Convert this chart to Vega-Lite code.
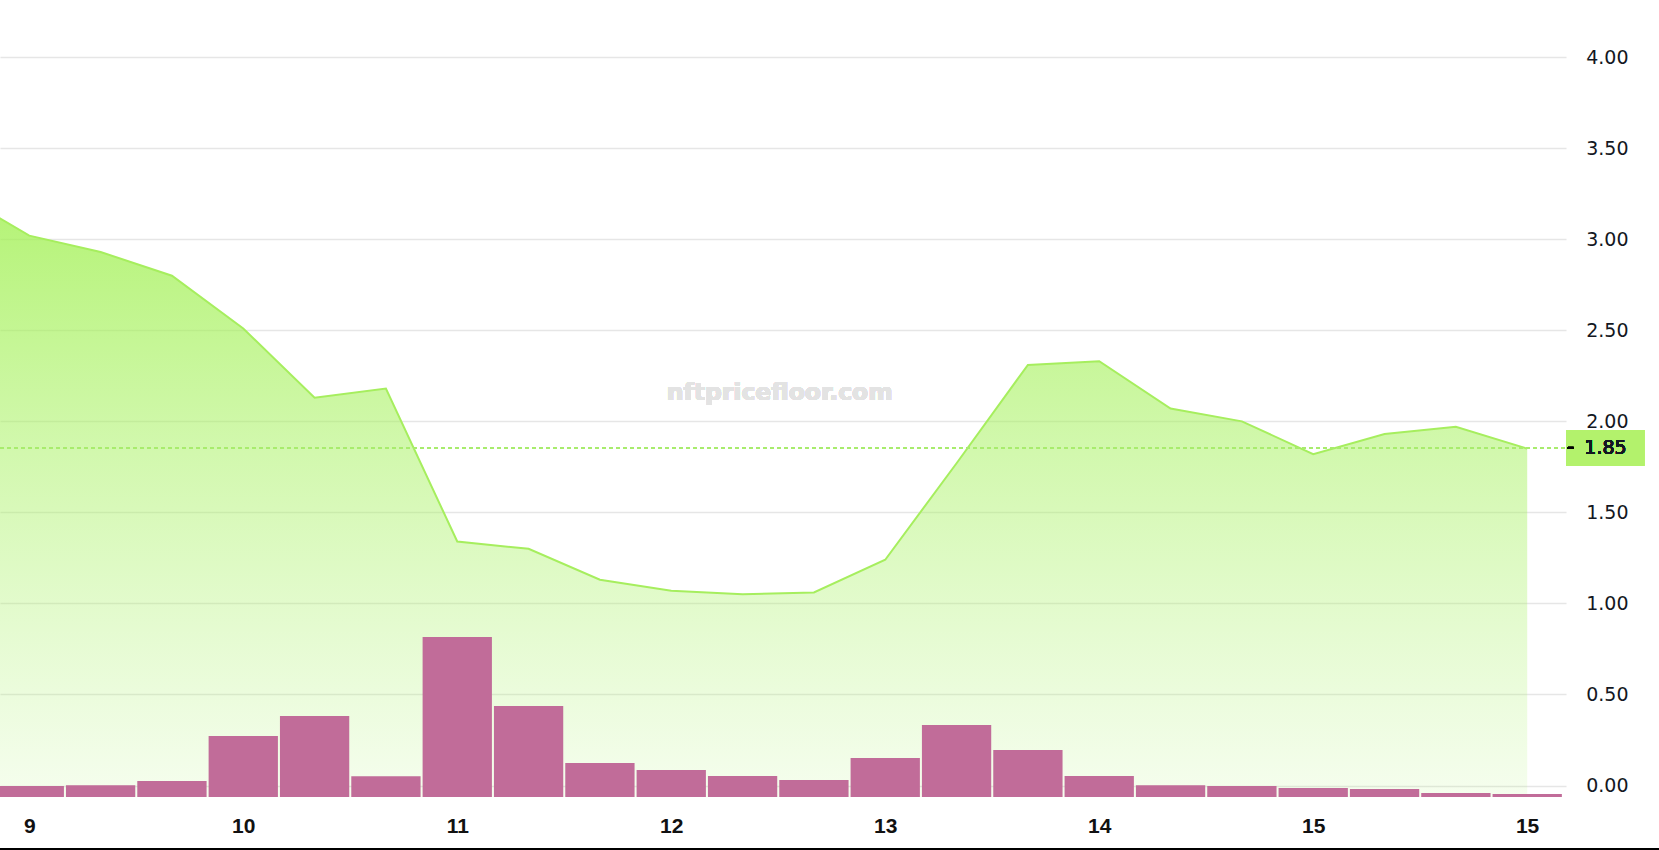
{
  "$schema": "https://vega.github.io/schema/vega-lite/v6.json",
  "width": 1566,
  "height": 797,
  "autosize": {"type": "none"},
  "padding": {"left": 0, "top": 0, "right": 93, "bottom": 53},
  "background": "white",
  "config": {
    "view": {"stroke": null},
    "scale": {"continuousPadding": 0},
    "axisX": {
      "domain": false, "ticks": false, "grid": false, "title": null, "format": "%-d",
      "labelFont": "Liberation Sans", "labelFontWeight": "bold", "labelFontSize": 21,
      "labelColor": "#111111", "labelBaseline": "middle", "labelPadding": 29,
      "labelFlush": false, "labelOverlap": false
    },
    "axisY": {
      "domain": false, "ticks": false, "grid": true, "title": null, "format": ".2f",
      "gridColor": "#e6e6e6", "gridWidth": 1.5,
      "labelFont": "DejaVu Sans", "labelFontSize": 19, "labelColor": "#131722",
      "labelAlign": "right", "labelBaseline": "middle", "labelPadding": 62,
      "labelFlush": false, "labelOverlap": false
    }
  },
  "data": {
    "values": [
      {"t": "2024-03-08T16:00:00", "price": 3.25},
      {"t": "2024-03-09T00:00:00", "price": 3.02, "vol": 1.1},
      {"t": "2024-03-09T08:00:00", "price": 2.93, "vol": 1.17},
      {"t": "2024-03-09T16:00:00", "price": 2.80, "vol": 1.6},
      {"t": "2024-03-10T00:00:00", "price": 2.51, "vol": 6.1},
      {"t": "2024-03-10T08:00:00", "price": 2.13, "vol": 8.1},
      {"t": "2024-03-10T16:00:00", "price": 2.18, "vol": 2.07},
      {"t": "2024-03-11T00:00:00", "price": 1.34, "vol": 16.0},
      {"t": "2024-03-11T08:00:00", "price": 1.30, "vol": 9.1},
      {"t": "2024-03-11T16:00:00", "price": 1.13, "vol": 3.4},
      {"t": "2024-03-12T00:00:00", "price": 1.07, "vol": 2.7},
      {"t": "2024-03-12T08:00:00", "price": 1.05, "vol": 2.1},
      {"t": "2024-03-12T16:00:00", "price": 1.06, "vol": 1.7},
      {"t": "2024-03-13T00:00:00", "price": 1.24, "vol": 3.9},
      {"t": "2024-03-13T08:00:00", "price": 1.77, "vol": 7.2},
      {"t": "2024-03-13T16:00:00", "price": 2.31, "vol": 4.7},
      {"t": "2024-03-14T00:00:00", "price": 2.33, "vol": 2.1},
      {"t": "2024-03-14T08:00:00", "price": 2.07, "vol": 1.17},
      {"t": "2024-03-14T16:00:00", "price": 2.00, "vol": 1.1},
      {"t": "2024-03-15T00:00:00", "price": 1.82, "vol": 0.9},
      {"t": "2024-03-15T08:00:00", "price": 1.93, "vol": 0.8},
      {"t": "2024-03-15T16:00:00", "price": 1.97, "vol": 0.4},
      {"t": "2024-03-16T00:00:00", "price": 1.85, "vol": 0.3}
    ]
  },
  "resolve": {"scale": {"y": "independent"}, "axis": {"y": "independent"}},
  "layer": [
    {
      "layer": [
        {
          "mark": {
            "type": "area",
            "clip": true,
            "color": {
              "gradient": "linear",
              "x1": 0, "y1": 0, "x2": 0, "y2": 1,
              "stops": [
                {"offset": 0, "color": "rgba(160,240,80,0.8)"},
                {"offset": 1, "color": "rgba(175,243,115,0.12)"}
              ]
            }
          },
          "encoding": {
            "x": {
              "field": "t", "type": "temporal",
              "scale": {"domain": [{"year": 2024, "month": 3, "date": 8, "hours": 20, "minutes": 43}, {"year": 2024, "month": 3, "date": 16, "hours": 4, "minutes": 21}], "nice": false, "padding": 0},
              "axis": {"orient": "bottom", "values": [{"year": 2024, "month": 3, "date": 9}, {"year": 2024, "month": 3, "date": 10}, {"year": 2024, "month": 3, "date": 11}, {"year": 2024, "month": 3, "date": 12}, {"year": 2024, "month": 3, "date": 13}, {"year": 2024, "month": 3, "date": 14}, {"year": 2024, "month": 3, "date": 15}, {"year": 2024, "month": 3, "date": 15, "hours": 23, "minutes": 59}]}
            },
            "y": {
              "field": "price", "type": "quantitative",
              "scale": {"domain": [-0.063, 4.314], "nice": false, "zero": false},
              "axis": {"orient": "right", "values": [0, 0.5, 1, 1.5, 2, 2.5, 3, 3.5, 4]}
            },
            "y2": {"datum": -0.063}
          }
        },
        {
          "mark": {"type": "line", "clip": true, "color": "#a6ee5e", "strokeWidth": 2},
          "encoding": {
            "x": {
              "field": "t", "type": "temporal",
              "scale": {"domain": [{"year": 2024, "month": 3, "date": 8, "hours": 20, "minutes": 43}, {"year": 2024, "month": 3, "date": 16, "hours": 4, "minutes": 21}], "nice": false, "padding": 0},
              "axis": {"orient": "bottom", "values": [{"year": 2024, "month": 3, "date": 9}, {"year": 2024, "month": 3, "date": 10}, {"year": 2024, "month": 3, "date": 11}, {"year": 2024, "month": 3, "date": 12}, {"year": 2024, "month": 3, "date": 13}, {"year": 2024, "month": 3, "date": 14}, {"year": 2024, "month": 3, "date": 15}, {"year": 2024, "month": 3, "date": 15, "hours": 23, "minutes": 59}]}
            },
            "y": {
              "field": "price", "type": "quantitative",
              "scale": {"domain": [-0.063, 4.314], "nice": false, "zero": false},
              "axis": {"orient": "right", "values": [0, 0.5, 1, 1.5, 2, 2.5, 3, 3.5, 4]}
            }
          }
        },
        {
          "mark": {"type": "rule", "color": "#a8ec6e", "strokeWidth": 1.5, "strokeDash": [4, 3]},
          "encoding": {
            "x": {"value": 0},
            "x2": {"value": 1566},
            "y": {
              "datum": 1.854, "type": "quantitative",
              "scale": {"domain": [-0.063, 4.314], "nice": false, "zero": false},
              "axis": {"orient": "right", "values": [0, 0.5, 1, 1.5, 2, 2.5, 3, 3.5, 4]}
            }
          }
        },
        {
          "mark": {"type": "text", "text": "nftpricefloor.com", "font": "DejaVu Sans", "fontWeight": "bold", "fontSize": 23.5, "color": "#e3e3e3", "align": "center", "baseline": "middle"},
          "encoding": {
            "x": {
              "datum": {"year": 2024, "month": 3, "date": 12, "hours": 12, "minutes": 10}, "type": "temporal",
              "scale": {"domain": [{"year": 2024, "month": 3, "date": 8, "hours": 20, "minutes": 43}, {"year": 2024, "month": 3, "date": 16, "hours": 4, "minutes": 21}], "nice": false, "padding": 0},
              "axis": {"orient": "bottom", "values": [{"year": 2024, "month": 3, "date": 9}, {"year": 2024, "month": 3, "date": 10}, {"year": 2024, "month": 3, "date": 11}, {"year": 2024, "month": 3, "date": 12}, {"year": 2024, "month": 3, "date": 13}, {"year": 2024, "month": 3, "date": 14}, {"year": 2024, "month": 3, "date": 15}, {"year": 2024, "month": 3, "date": 15, "hours": 23, "minutes": 59}]}
            },
            "y": {
              "datum": 2.155, "type": "quantitative",
              "scale": {"domain": [-0.063, 4.314], "nice": false, "zero": false},
              "axis": {"orient": "right", "values": [0, 0.5, 1, 1.5, 2, 2.5, 3, 3.5, 4]}
            }
          }
        },
        {
          "mark": {"type": "rect", "color": "#b3f26c", "clip": false},
          "encoding": {
            "x": {
              "datum": {"year": 2024, "month": 3, "date": 16, "hours": 4, "minutes": 21}, "type": "temporal",
              "scale": {"domain": [{"year": 2024, "month": 3, "date": 8, "hours": 20, "minutes": 43}, {"year": 2024, "month": 3, "date": 16, "hours": 4, "minutes": 21}], "nice": false, "padding": 0},
              "axis": {"orient": "bottom", "values": [{"year": 2024, "month": 3, "date": 9}, {"year": 2024, "month": 3, "date": 10}, {"year": 2024, "month": 3, "date": 11}, {"year": 2024, "month": 3, "date": 12}, {"year": 2024, "month": 3, "date": 13}, {"year": 2024, "month": 3, "date": 14}, {"year": 2024, "month": 3, "date": 15}, {"year": 2024, "month": 3, "date": 15, "hours": 23, "minutes": 59}]}
            },
            "x2": {"datum": {"year": 2024, "month": 3, "date": 16, "hours": 13, "minutes": 7}},
            "y": {
              "datum": 1.952, "type": "quantitative",
              "scale": {"domain": [-0.063, 4.314], "nice": false, "zero": false},
              "axis": {"orient": "right", "values": [0, 0.5, 1, 1.5, 2, 2.5, 3, 3.5, 4]}
            },
            "y2": {"datum": 1.756}
          }
        },
        {
          "mark": {"type": "rule", "color": "#000000", "strokeWidth": 2, "clip": false},
          "encoding": {
            "x": {
              "datum": {"year": 2024, "month": 3, "date": 16, "hours": 4, "minutes": 32}, "type": "temporal",
              "scale": {"domain": [{"year": 2024, "month": 3, "date": 8, "hours": 20, "minutes": 43}, {"year": 2024, "month": 3, "date": 16, "hours": 4, "minutes": 21}], "nice": false, "padding": 0},
              "axis": {"orient": "bottom", "values": [{"year": 2024, "month": 3, "date": 9}, {"year": 2024, "month": 3, "date": 10}, {"year": 2024, "month": 3, "date": 11}, {"year": 2024, "month": 3, "date": 12}, {"year": 2024, "month": 3, "date": 13}, {"year": 2024, "month": 3, "date": 14}, {"year": 2024, "month": 3, "date": 15}, {"year": 2024, "month": 3, "date": 15, "hours": 23, "minutes": 59}]}
            },
            "x2": {"datum": {"year": 2024, "month": 3, "date": 16, "hours": 5, "minutes": 12}},
            "y": {
              "datum": 1.854, "type": "quantitative",
              "scale": {"domain": [-0.063, 4.314], "nice": false, "zero": false},
              "axis": {"orient": "right", "values": [0, 0.5, 1, 1.5, 2, 2.5, 3, 3.5, 4]}
            }
          }
        },
        {
          "mark": {"type": "text", "text": "1.85", "font": "DejaVu Sans", "fontSize": 19, "color": "#131722", "align": "right", "baseline": "middle", "clip": false},
          "encoding": {
            "x": {
              "datum": {"year": 2024, "month": 3, "date": 16, "hours": 11, "minutes": 9}, "type": "temporal",
              "scale": {"domain": [{"year": 2024, "month": 3, "date": 8, "hours": 20, "minutes": 43}, {"year": 2024, "month": 3, "date": 16, "hours": 4, "minutes": 21}], "nice": false, "padding": 0},
              "axis": {"orient": "bottom", "values": [{"year": 2024, "month": 3, "date": 9}, {"year": 2024, "month": 3, "date": 10}, {"year": 2024, "month": 3, "date": 11}, {"year": 2024, "month": 3, "date": 12}, {"year": 2024, "month": 3, "date": 13}, {"year": 2024, "month": 3, "date": 14}, {"year": 2024, "month": 3, "date": 15}, {"year": 2024, "month": 3, "date": 15, "hours": 23, "minutes": 59}]}
            },
            "y": {
              "datum": 1.854, "type": "quantitative",
              "scale": {"domain": [-0.063, 4.314], "nice": false, "zero": false},
              "axis": {"orient": "right", "values": [0, 0.5, 1, 1.5, 2, 2.5, 3, 3.5, 4]}
            }
          }
        },
        {
          "mark": {"type": "rule", "color": "#000000", "strokeWidth": 1.5, "clip": false},
          "encoding": {
            "x": {
              "datum": {"year": 2024, "month": 3, "date": 8, "hours": 20, "minutes": 43}, "type": "temporal",
              "scale": {"domain": [{"year": 2024, "month": 3, "date": 8, "hours": 20, "minutes": 43}, {"year": 2024, "month": 3, "date": 16, "hours": 4, "minutes": 21}], "nice": false, "padding": 0},
              "axis": {"orient": "bottom", "values": [{"year": 2024, "month": 3, "date": 9}, {"year": 2024, "month": 3, "date": 10}, {"year": 2024, "month": 3, "date": 11}, {"year": 2024, "month": 3, "date": 12}, {"year": 2024, "month": 3, "date": 13}, {"year": 2024, "month": 3, "date": 14}, {"year": 2024, "month": 3, "date": 15}, {"year": 2024, "month": 3, "date": 15, "hours": 23, "minutes": 59}]}
            },
            "x2": {"datum": {"year": 2024, "month": 3, "date": 16, "hours": 15, "minutes": 0}},
            "y": {
              "datum": -0.35, "type": "quantitative",
              "scale": {"domain": [-0.063, 4.314], "nice": false, "zero": false},
              "axis": {"orient": "right", "values": [0, 0.5, 1, 1.5, 2, 2.5, 3, 3.5, 4]}
            }
          }
        }
      ]
    },
    {
      "mark": {"type": "bar", "color": "#c16c99", "width": 69.3, "clip": true},
      "encoding": {
        "x": {
          "field": "t", "type": "temporal",
          "scale": {"domain": [{"year": 2024, "month": 3, "date": 8, "hours": 20, "minutes": 43}, {"year": 2024, "month": 3, "date": 16, "hours": 4, "minutes": 21}], "nice": false, "padding": 0},
          "axis": {"orient": "bottom", "values": [{"year": 2024, "month": 3, "date": 9}, {"year": 2024, "month": 3, "date": 10}, {"year": 2024, "month": 3, "date": 11}, {"year": 2024, "month": 3, "date": 12}, {"year": 2024, "month": 3, "date": 13}, {"year": 2024, "month": 3, "date": 14}, {"year": 2024, "month": 3, "date": 15}, {"year": 2024, "month": 3, "date": 15, "hours": 23, "minutes": 59}]}
        },
        "y": {"field": "vol", "type": "quantitative", "scale": {"domain": [0, 79.7], "nice": false}, "axis": null}
      }
    }
  ]
}
